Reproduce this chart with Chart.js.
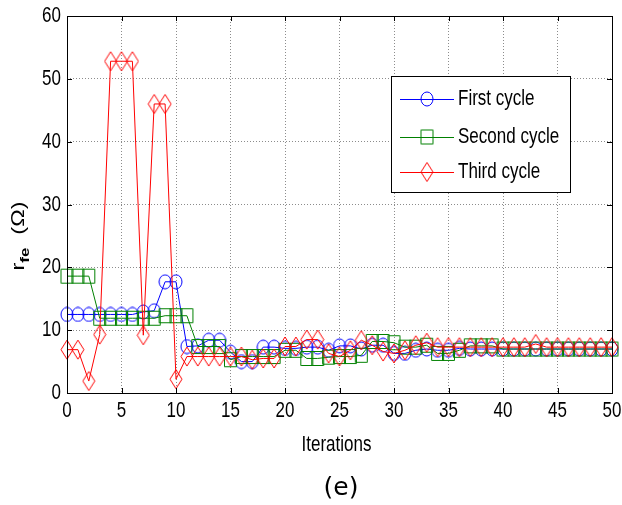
<!DOCTYPE html>
<html><head><meta charset="utf-8">
<script src="https://cdn.jsdelivr.net/npm/chart.js@4.4.1/dist/chart.umd.min.js"></script>
<style>html,body{margin:0;padding:0;background:#fff;overflow:hidden}canvas{display:block}</style>
</head><body>
<canvas id="c" width="622" height="505"></canvas>
<script>
const iterations = [0,1,2,3,4,5,6,7,8,9,10,11,12,13,14,15,16,17,18,19,20,21,22,23,24,25,26,27,28,29,30,31,32,33,34,35,36,37,38,39,40,41,42,43,44,45,46,47,48,49,50];
const firstCycle = [12.5,12.5,12.5,12.5,12.5,12.5,12.5,12.9,13.1,17.7,17.7,7.4,7.5,8.4,8.4,6.5,5.0,5.0,7.3,7.3,7.1,7.1,7.3,7.3,6.8,7.5,7.5,7.0,7.6,7.6,6.3,6.3,6.8,7.0,6.8,6.8,7.1,7.0,7.0,7.0,7.0,7.0,7.0,7.0,7.0,7.0,7.0,7.0,7.0,7.0,7.0];
const secondCycle = [18.6,18.6,18.6,11.9,11.9,11.9,11.9,11.9,11.9,12.3,12.3,12.3,7.4,7.4,7.4,5.3,5.8,5.8,5.8,5.8,6.8,6.8,5.5,5.5,5.7,5.8,5.8,6.0,8.2,8.2,8.0,7.3,7.3,7.6,6.3,6.3,6.8,7.5,7.5,7.5,7.0,7.0,7.0,7.0,7.0,7.0,7.0,7.0,7.0,7.0,7.0];
const thirdCycle = [6.9,6.9,1.9,9.3,52.8,52.8,52.8,9.2,46.0,46.0,2.2,5.8,5.8,5.8,5.8,5.8,5.8,5.3,5.5,5.5,7.4,7.4,8.5,8.5,6.3,5.8,6.8,8.4,7.6,6.6,6.3,6.8,7.6,8.0,7.3,7.3,7.3,7.3,7.3,7.3,7.3,7.3,7.3,7.8,7.3,7.3,7.3,7.3,7.3,7.3,7.3];
const seriesNames = ['First cycle','Second cycle','Third cycle'];
const xTickLabels = [0,5,10,15,20,25,30,35,40,45,50];
const yTickLabels = [0,10,20,30,40,50,60];
const xTitle = 'Iterations';
const yTitleMain = 'r', yTitleSub = 'fe', yTitleUnit = '(\u03A9)';
const caption = '(e)';

const FONT = "'Liberation Sans', Arial, sans-serif";
const STRETCH = 1.3;

function makeMarker(shape, color, w, h) {
  const c = document.createElement('canvas');
  c.width = w + 2; c.height = h + 2;
  const g = c.getContext('2d');
  g.strokeStyle = color; g.lineWidth = 1;
  const cx = (w + 2) / 2, cy = (h + 2) / 2;
  g.beginPath();
  if (shape === 'circle') g.ellipse(cx, cy, w / 2, h / 2, 0, 0, Math.PI * 2);
  else if (shape === 'square') g.rect(1.5, 1.5, w - 1, h - 1);
  else { g.moveTo(cx, 1); g.lineTo(w + 1, cy); g.lineTo(cx, h + 1); g.lineTo(1, cy); g.closePath(); }
  g.stroke();
  return c;
}
const mCircle = makeMarker('circle', '#0000ff', 12, 14);
const mSquare = makeMarker('square', '#008000', 13, 15);
const mDiamond = makeMarker('diamond', '#ff0000', 12, 19);

function pts(vals) { return iterations.map((x, i) => ({x: x, y: vals[i]})); }

function stretchedText(ctx, t, x, y, size, align, base) {
  ctx.save();
  ctx.translate(x, y);
  ctx.scale(1, STRETCH);
  ctx.font = size + 'px ' + FONT;
  ctx.textAlign = align; ctx.textBaseline = base;
  ctx.fillStyle = '#000';
  ctx.fillText(t, 0, 0);
  ctx.restore();
}

const decor = {
  id: 'decor',
  afterDraw(chart) {
    const ctx = chart.ctx, a = chart.chartArea;
    const xs = chart.scales.x, ys = chart.scales.y;
    ctx.save();
    // box
    ctx.strokeStyle = '#000'; ctx.lineWidth = 1;
    ctx.strokeRect(Math.round(a.left) + 0.5, Math.round(a.top) + 0.5, Math.round(a.right - a.left), Math.round(a.bottom - a.top));
    // inward ticks
    ctx.beginPath();
    xTickLabels.forEach(v => {
      const px = Math.round(xs.getPixelForValue(v)) + 0.5;
      ctx.moveTo(px, a.bottom); ctx.lineTo(px, a.bottom - 5);
      ctx.moveTo(px, a.top); ctx.lineTo(px, a.top + 5);
    });
    yTickLabels.forEach(v => {
      const py = Math.round(ys.getPixelForValue(v)) + 0.5;
      ctx.moveTo(a.left, py); ctx.lineTo(a.left + 5, py);
      ctx.moveTo(a.right, py); ctx.lineTo(a.right - 5, py);
    });
    ctx.stroke();
    // tick labels
    xTickLabels.forEach(v => stretchedText(ctx, String(v), xs.getPixelForValue(v), a.bottom + 18, 17, 'center', 'middle'));
    yTickLabels.forEach(v => stretchedText(ctx, String(v), a.left - 6, ys.getPixelForValue(v), 17, 'right', 'middle'));
    // x title
    stretchedText(ctx, xTitle, (a.left + a.right) / 2 - 3, 445, 17, 'center', 'middle');
    // y title
    ctx.save();
    ctx.translate(24, 236);
    ctx.rotate(-Math.PI / 2);
    ctx.scale(STRETCH, 1);
    ctx.fillStyle = '#000';
    ctx.textBaseline = 'alphabetic'; ctx.textAlign = 'left';
    const mainF = '18px ' + FONT, subF = 'bold 13px ' + FONT;
    ctx.font = mainF; const w1 = ctx.measureText(yTitleMain).width;
    ctx.font = subF; const w2 = ctx.measureText(yTitleSub).width;
    ctx.font = mainF; const wsp = ctx.measureText('  ').width; const w3 = ctx.measureText(yTitleUnit).width;
    let x0 = -(w1 + w2 + wsp + w3) / 2;
    ctx.font = mainF; ctx.fillText(yTitleMain, x0, 0);
    ctx.font = subF; ctx.fillText(yTitleSub, x0 + w1, 5);
    ctx.font = mainF; ctx.fillText(yTitleUnit, x0 + w1 + w2 + wsp, 0);
    ctx.restore();
    // legend
    const L = {l: 391, t: 76, r: 570, b: 192};
    ctx.fillStyle = '#fff';
    ctx.fillRect(L.l, L.t, L.r - L.l, L.b - L.t);
    ctx.strokeStyle = '#000';
    ctx.strokeRect(L.l + 0.5, L.t + 0.5, L.r - L.l, L.b - L.t);
    const rows = [99, 137, 172];
    const cols = ['#0000ff', '#008000', '#ff0000'];
    const mk = [mCircle, mSquare, mDiamond];
    chart.data.datasets.forEach((ds, i) => {
      const y = rows[i];
      ctx.strokeStyle = cols[i];
      ctx.beginPath(); ctx.moveTo(400, y + 0.5); ctx.lineTo(454, y + 0.5); ctx.stroke();
      ctx.drawImage(mk[i], 427 - mk[i].width / 2, y - mk[i].height / 2);
      stretchedText(ctx, ds.label, 458, y, 17, 'left', 'middle');
    });
    // caption
    ctx.fillStyle = '#000';
    ctx.font = "25px 'DejaVu Sans', sans-serif";
    ctx.textAlign = 'center'; ctx.textBaseline = 'middle';
    ctx.fillText(caption, 341, 488);
    ctx.restore();
  }
};

new Chart(document.getElementById('c'), {
  type: 'line',
  data: {
    datasets: [
      {label: seriesNames[0], data: pts(firstCycle), borderColor: '#0000ff', borderWidth: 1, pointStyle: mCircle, pointRadius: 6, order: 3, clip: false},
      {label: seriesNames[1], data: pts(secondCycle), borderColor: '#008000', borderWidth: 1, pointStyle: mSquare, pointRadius: 6, order: 2, clip: false},
      {label: seriesNames[2], data: pts(thirdCycle), borderColor: '#ff0000', borderWidth: 1, pointStyle: mDiamond, pointRadius: 6, order: 1, clip: false}
    ]
  },
  options: {
    responsive: false,
    animation: false,
    events: [],
    layout: {padding: {left: 0, right: 10, top: 16, bottom: 0}},
    plugins: {legend: {display: false}, tooltip: {enabled: false}},
    elements: {line: {tension: 0, fill: false}},
    scales: {
      x: {
        type: 'linear', min: 0, max: 50,
        afterBuildTicks: s => { s.ticks = xTickLabels.map(v => ({value: v})); },
        afterFit: s => { s.height = 112; },
        ticks: {display: false},
        grid: {color: 'rgba(0,0,0,0.45)', drawTicks: false},
        border: {display: false, dash: [1, 2]}
      },
      y: {
        min: 0, max: 60,
        afterBuildTicks: s => { s.ticks = yTickLabels.map(v => ({value: v})); },
        afterFit: s => { s.width = 67; },
        ticks: {display: false},
        grid: {color: 'rgba(0,0,0,0.45)', drawTicks: false},
        border: {display: false, dash: [1, 2]}
      }
    }
  },
  plugins: [decor]
});
</script>
</body></html>
